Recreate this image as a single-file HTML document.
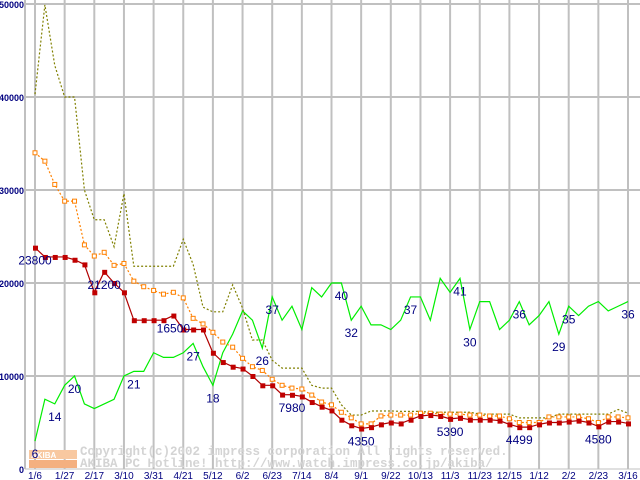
<!DOCTYPE html>
<html><head><meta charset="utf-8"><style>
body{margin:0;background:#fff;}
svg{display:block;font-family:"Liberation Sans",sans-serif;}
</style></head><body>
<svg id="chart" width="640" height="480" viewBox="0 0 640 480" xmlns="http://www.w3.org/2000/svg">
<g id="grid"></g>
<g id="yaxis"></g>
<g id="xaxis"></g>
<g>
<rect x="29" y="450" width="48" height="9" fill="#f8c8a0"/>
<rect x="29" y="460" width="48" height="8" fill="#f4b080"/>
<text x="31" y="458" font-size="8" fill="#fff" font-weight="bold">AKIBA</text>
<text x="80" y="455" font-family="Liberation Mono, monospace" font-size="12.5" font-weight="bold" fill="#d4d4d4">Copyright(c)2002 impress corporation All rights reserved.</text>
<text x="80" y="467" font-family="Liberation Mono, monospace" font-size="12.5" font-weight="bold" fill="#d4d4d4">AKIBA PC Hotline!  http://www.watch.impress.co.jp/akiba/</text>
</g>
<g id="series"></g>
<g id="labels"></g>
</svg>
<script>
const xTickLabels=["1/6","1/27","2/17","3/10","3/31","4/21","5/12","6/2","6/23","7/14","8/4","9/1","9/22","10/13","11/3","11/23","12/15","1/12","2/2","2/23","3/16"];
const yTicks=[0,10000,20000,30000,40000,50000];
const maxPrice=[40300,49900,43400,40000,40000,30000,26800,26800,23900,29600,21800,21800,21800,21800,21800,24700,22000,17400,16900,16900,19800,17300,13870,13870,11700,10850,10850,10850,9000,8700,8700,6900,5800,5800,6240,6240,6240,6200,6200,6200,6100,6100,6100,6100,6100,5900,5900,5900,5900,5500,5500,5500,5500,5900,5900,5900,5900,5900,5900,6400,6000];
const avgPrice=[34000,33100,30600,28800,28800,24100,22900,23300,21900,22100,20200,19600,19200,18800,19000,18400,16200,15600,14700,13650,13100,11900,11000,10600,9650,9000,8700,8600,7950,7200,6900,6100,5500,4850,4850,5700,5800,5800,5800,6000,6000,5900,5900,5900,5800,5800,5700,5700,5400,5000,5000,5000,5600,5600,5600,5600,5400,5000,5600,5600,5500];
const minPrice=[23800,22800,22800,22800,22500,22000,19000,21200,20000,19000,16000,16000,16000,16000,16500,15000,15000,15000,12500,11500,11000,10800,10000,9000,9000,8000,7980,7800,7200,6700,6300,5300,4700,4350,4500,4800,5000,4900,5300,5700,5800,5700,5390,5500,5300,5300,5300,5200,4800,4499,4499,4800,5000,5000,5100,5200,5000,4580,5100,5100,4900];
const shopCount=[6,15,14,18,20,14,13,14,15,20,21,21,25,24,24,25,27,22,18,25,29,34,32,26,37,32,35,30,39,37,40,40,32,35,31,31,30,32,37,37,32,41,38,41,30,36,36,30,32,36,31,33,36,29,35,33,35,36,34,35,36];
const countLabelIdx=[0,2,4,10,16,18,23,24,31,32,38,43,44,49,53,54,60];
const priceLabelIdx=[0,7,14,26,33,42,49,57];

const NS="http://www.w3.org/2000/svg";
const X0=35,X1=628,Y0=469,Y1=4;
const xs=i=>X0+i*(X1-X0)/60;
const yp=v=>Y0-v*(Y0-Y1)/50000;
const yc=v=>Y0-v*(Y0-Y1)/100;
function mk(tag,attrs,parent){const e=document.createElementNS(NS,tag);for(const k in attrs)e.setAttribute(k,attrs[k]);parent.appendChild(e);return e;}
const grid=document.getElementById('grid'),yaxis=document.getElementById('yaxis'),xaxis=document.getElementById('xaxis'),series=document.getElementById('series'),labels=document.getElementById('labels');

yTicks.forEach(v=>{
  if(v>0){const l=mk('line',{x1:25,x2:640,y1:yp(v),y2:yp(v),stroke:'#c0c0c0','stroke-width':2},grid);
  
  }
  const t=mk('text',{x:24,y:yp(v)+4,'text-anchor':'end','font-size':9,'font-weight':'bold',fill:'#000080'},yaxis);
  t.textContent=String(v);
  
  
});
xTickLabels.forEach((s,k)=>{
  const x=xs(k*3);
  const l=mk('line',{x1:x,x2:x,y1:0,y2:Y0,stroke:'#c0c0c0','stroke-width':2},grid);
  
  
  const t=mk('text',{x:x,y:479,'text-anchor':'middle','font-size':10,fill:'#000080'},xaxis);
  t.textContent=s;
  
  
});
const ax=mk('line',{x1:25,x2:25,y1:0,y2:Y0,stroke:'#c0c0c0','stroke-width':2},grid);


const bx=mk('line',{x1:25,x2:640,y1:Y0,y2:Y0,stroke:'#c0c0c0','stroke-width':1},grid);



function line(arr,yf,color,dash,name){
  const p=mk('polyline',{points:arr.map((v,i)=>xs(i)+','+yf(v)).join(' '),fill:'none',stroke:color,'stroke-width':1.2,'stroke-dasharray':dash},series);
  
  
}
line(shopCount,yc,'#00ee00','none','shop-count-line');
line(maxPrice,yp,'#808000','2,2','max-price-line');
line(avgPrice,yp,'#ff8000','2,2','avg-price-line');
line(minPrice,yp,'#b00000','none','min-price-line');
avgPrice.forEach((v,i)=>{
  const r=mk('rect',{x:xs(i)-2,y:yp(v)-2,width:4,height:4,fill:'#fff',stroke:'#ff8000','stroke-width':1},series);
  
  
});
minPrice.forEach((v,i)=>{
  const r=mk('rect',{x:xs(i)-2,y:yp(v)-2,width:5,height:5,fill:'#c00000'},series);
  
  
});
countLabelIdx.forEach(i=>{
  const t=mk('text',{x:xs(i),y:yc(shopCount[i])+17,'text-anchor':'middle','font-size':12,fill:'#000080'},labels);
  t.textContent=String(shopCount[i]);
  
  
});
priceLabelIdx.forEach(i=>{
  const t=mk('text',{x:xs(i),y:yp(minPrice[i])+17,'text-anchor':'middle','font-size':12,fill:'#000080'},labels);
  t.textContent=String(minPrice[i]);
  
  
});
</script>
</body></html>
